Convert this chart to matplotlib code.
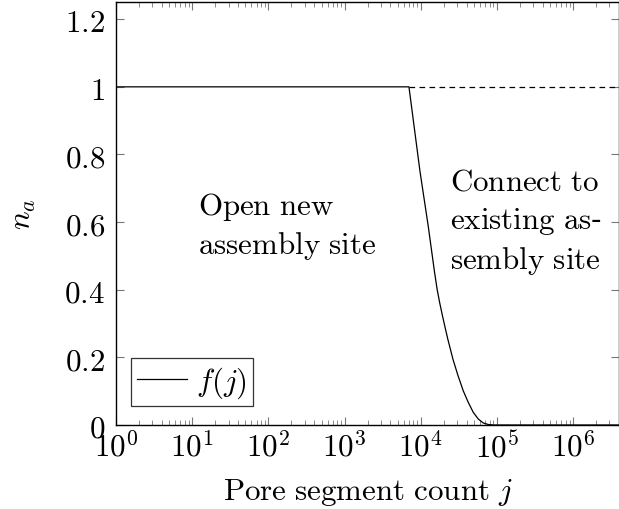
import numpy as np
import matplotlib
matplotlib.use("Agg")
import matplotlib.pyplot as plt
from matplotlib.ticker import LogLocator, NullFormatter

plt.rcParams['mathtext.fontset'] = 'cm'
plt.rcParams['font.family'] = ['DejaVu Serif']

# Data
j_plateau = [1, 7000]
n_plateau = [1.0, 1.0]
j_drop = [7000, 9770, 12500, 15210, 16440, 17780, 19190, 20800, 22650, 26420, 30830,
          36130, 42020, 48870, 56860, 66100, 76900, 90000, 4.0e6]
n_drop = [1.0, 0.75, 0.59, 0.45, 0.40, 0.36, 0.325, 0.29, 0.254, 0.195, 0.146,
          0.101, 0.067, 0.0375, 0.0177, 0.006, 0.0015, 0.0, 0.0]
j_dash = [7000, 4.0e6]
n_dash = [1.0, 1.0]

x_ticks = [1e0, 1e1, 1e2, 1e3, 1e4, 1e5, 1e6]
x_ticklabels = [r'$10^{%d}$' % k for k in range(7)]
y_ticks = [0, 0.2, 0.4, 0.6, 0.8, 1.0, 1.2]
y_ticklabels = ['$0$', '$0.2$', '$0.4$', '$0.6$', '$0.8$', '$1$', '$1.2$']

FS = 22.3

fig = plt.figure(figsize=(6.19, 5.10), dpi=100)
ax = fig.add_axes([116/619, 84/510, 503/619, 422.7/510])

line, = ax.plot(j_plateau + j_drop[1:], n_plateau + n_drop[1:], color='black', lw=0.9)
ax.plot(j_dash, n_dash, color='black', lw=0.9, ls=(0, (4.5, 3.5)))

ax.set_xscale('log')
ax.set_xlim(1, 4.0e6)
ax.set_ylim(0, 1.25)

ax.set_xticks(x_ticks)
ax.set_xticklabels(x_ticklabels)
ax.xaxis.set_minor_locator(LogLocator(base=10, subs=np.arange(2, 10), numticks=20))
ax.xaxis.set_minor_formatter(NullFormatter())
ax.set_yticks(y_ticks)
ax.set_yticklabels(y_ticklabels)

ax.tick_params(axis='both', which='both', direction='in', labelsize=FS, color='#777777')
ax.tick_params(axis='x', which='both', top=True)
ax.tick_params(axis='y', which='both', right=True)
ax.tick_params(which='major', length=6, width=0.8)
ax.tick_params(which='minor', length=3.5, width=0.6)
ax.tick_params(axis='x', which='major', pad=5)
ax.tick_params(axis='y', which='major', pad=8)

for s in ax.spines.values():
    s.set_linewidth(1.0)
    s.set_color('black')

ax.set_xlabel(r'$\mathrm{Pore\ segment\ count}\ j$', fontsize=FS, labelpad=9)
ax.set_ylabel(r'$n_a$', fontsize=FS, labelpad=19)

ax.text(11.9, 0.59, '$\\mathrm{Open\\ new}$\n$\\mathrm{assembly\\ site}$', fontsize=FS,
        ha='left', va='center', linespacing=1.32)
ax.text(24200, 0.605, '$\\mathrm{Connect\\ to}$\n$\\mathrm{existing\\ as}$-\n$\\mathrm{sembly\\ site}$', fontsize=FS,
        ha='left', va='center', linespacing=1.32)

leg = ax.legend([line], ['$f(j)$'], loc='lower left', bbox_to_anchor=(0.03, 0.045),
                fontsize=FS, frameon=True, fancybox=False, edgecolor='black',
                handlelength=1.6, handletextpad=0.3, borderpad=0.2, borderaxespad=0)
leg.get_frame().set_linewidth(0.9)

fig.savefig('out.png', dpi=100)
